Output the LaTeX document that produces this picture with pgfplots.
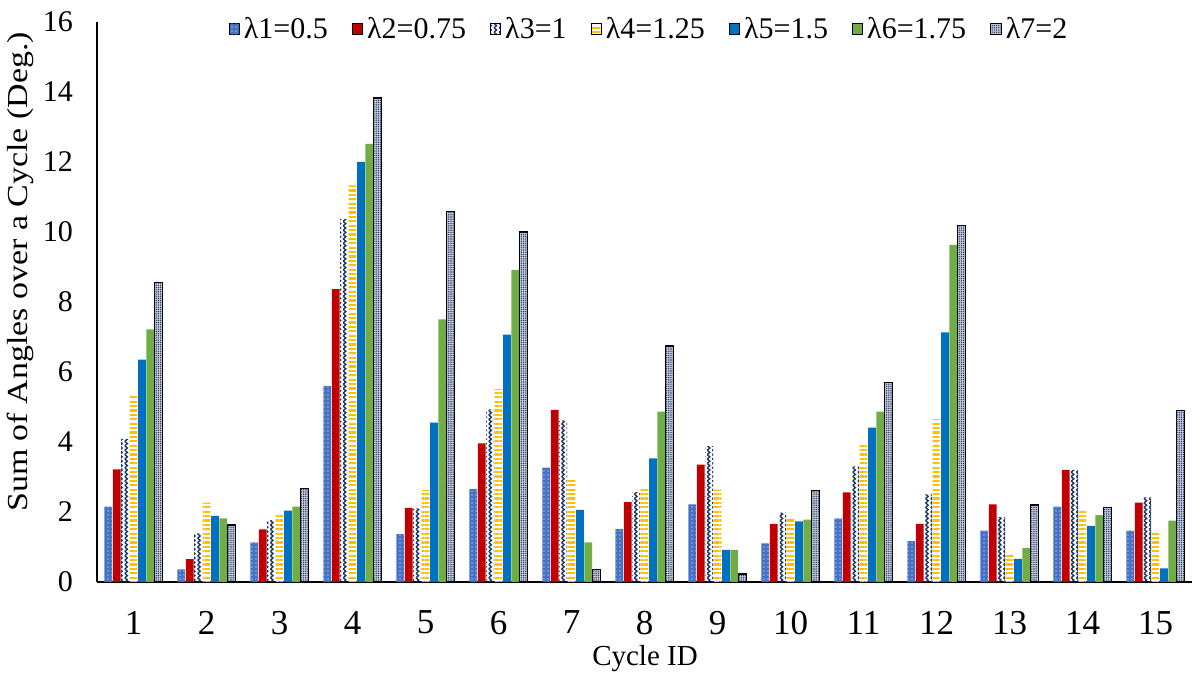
\documentclass[border=0pt]{standalone}
\usepackage{fontspec}
\setmainfont{Liberation Serif}
\usepackage{pgfplots}
\pgfplotsset{compat=1.18}
\usepackage{pgfplotstable}
\usetikzlibrary{patterns,patterns.meta}

\definecolor{c1}{HTML}{4472C4}
\definecolor{c2}{HTML}{C00000}
\definecolor{c3}{HTML}{1F3864}
\definecolor{c4}{HTML}{FFC000}
\definecolor{c5}{HTML}{0070C0}
\definecolor{c6}{HTML}{70AD47}
\definecolor{c7}{HTML}{223A66}

\pgfdeclarepatternformonly{zigzag}{\pgfqpoint{-0.5pt}{-0.5pt}}{\pgfqpoint{3.5pt}{3.5pt}}{\pgfqpoint{2.6pt}{2.2pt}}{%
  \pgfsetlinewidth{0.7pt}
  \pgfpathmoveto{\pgfqpoint{0pt}{0pt}}
  \pgfpathlineto{\pgfqpoint{1.3pt}{1.1pt}}
  \pgfpathlineto{\pgfqpoint{0pt}{2.2pt}}
  \pgfusepath{stroke}
}

\pgfplotstableread{
x s1 s2 s3 s4 s5 s6 s7
1 2.15 3.22 4.09 5.36 6.35 7.22 8.55
2 0.36 0.65 1.39 2.27 1.89 1.82 1.63
3 1.13 1.50 1.77 1.93 2.04 2.15 2.66
4 5.60 8.37 10.37 11.33 12.00 12.52 13.83
5 1.37 2.12 2.10 2.63 4.55 7.50 10.58
6 2.65 3.96 4.93 5.52 7.07 8.92 10.00
7 3.27 4.92 4.62 2.92 2.06 1.13 0.36
8 1.51 2.28 2.57 2.66 3.53 4.87 6.74
9 2.22 3.35 3.88 2.64 0.92 0.92 0.23
10 1.10 1.66 1.98 1.80 1.73 1.78 2.62
11 1.82 2.56 3.30 3.92 4.41 4.87 5.70
12 1.17 1.66 2.50 4.65 7.13 9.63 10.18
13 1.47 2.22 1.85 0.80 0.66 0.97 2.20
14 2.15 3.20 3.20 2.10 1.60 1.91 2.13
15 1.47 2.27 2.42 1.42 0.39 1.75 4.91
}\data

\begin{document}
\begin{tikzpicture}
\path[use as bounding box] (0,0) rectangle (598pt,339.5pt);
\begin{axis}[
  at={(48.5pt,48.5pt)}, anchor=south west,
  scale only axis, width=547.5pt, height=280pt,
  xmin=0.5, xmax=15.5, ymin=0, ymax=16,
  enlargelimits=false,
  ybar=0.3pt, bar width=3.9pt,
  axis x line*=bottom, axis y line*=left,
  axis line style={-, line width=0.9pt, black},
  xtick={1,...,15}, ytick={0,2,...,16},
  major tick length=0pt, tick style={draw=none},
  /pgf/number format/assume math mode=true,
  xticklabel style={font=\rmfamily\fontsize{17.5}{19}\selectfont, yshift=-11pt},
  yticklabel style={font=\rmfamily\fontsize{15}{17}\selectfont, xshift=-8.5pt},
  legend columns=7,
  legend style={draw=none, fill=none, at={(0.505,0.9875)}, anchor=center,
    font=\rmfamily\fontsize{15}{17}\selectfont, inner sep=0pt,
    /tikz/every even column/.append style={column sep=10pt}},
  legend cell align=left,
  legend image code/.code={\draw[#1] (0pt,-2.6pt) rectangle (5.2pt,2.6pt);},
]
\addplot[draw=none, fill=c1, postaction={pattern={Dots[distance=2pt, radius=0.35pt]}, pattern color=white}] table[x=x,y=s1]{\data};
\addplot[draw=none, fill=c2] table[x=x,y=s2]{\data};
\addplot[draw=none, pattern=zigzag, pattern color=c3] table[x=x,y=s3]{\data};
\addplot[draw=none, pattern={Lines[angle=0, distance=2.2pt, line width=1.1pt]}, pattern color=c4] table[x=x,y=s4]{\data};
\addplot[draw=none, fill=c5] table[x=x,y=s5]{\data};
\addplot[draw=none, fill=c6] table[x=x,y=s6]{\data};
\addplot[draw=black, line width=0.6pt, fill=c7!25, postaction={pattern={Dots[distance=1.1pt, radius=0.38pt]}, pattern color=c7}] table[x=x,y=s7]{\data};
\legend{λ1=0.5, λ2=0.75, λ3=1, λ4=1.25, λ5=1.5, λ6=1.75, λ7=2}
\end{axis}
\node[anchor=base, font=\rmfamily\fontsize{14.5}{17}\selectfont] at (322.5pt,6.5pt) {Cycle ID};
\node[rotate=90, xscale=1.17, anchor=base, font=\rmfamily\fontsize{14.5}{17}\selectfont] at (13.5pt,203.5pt) {Sum of Angles over a Cycle (Deg.)};
\end{tikzpicture}
\end{document}
